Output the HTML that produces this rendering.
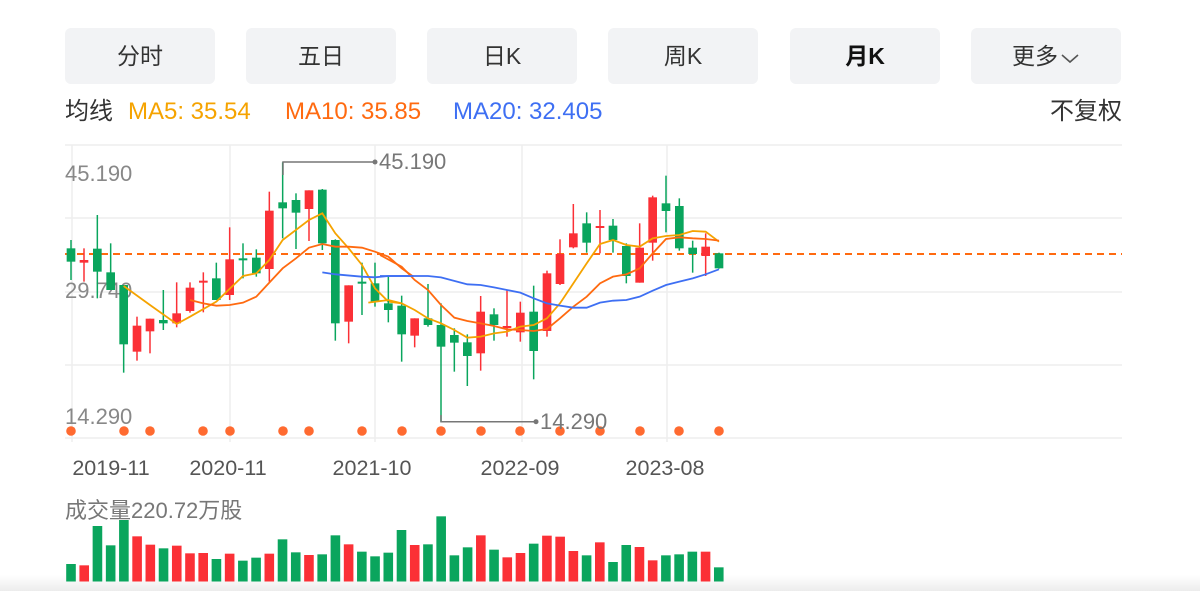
<!DOCTYPE html>
<html><head><meta charset="utf-8"><style>
html,body{margin:0;padding:0;background:#fff;width:1200px;height:591px;overflow:hidden;font-family:"Liberation Sans","Noto Sans CJK SC",sans-serif;}
.btn{position:absolute;top:28px;height:56px;width:150px;background:#f2f3f5;border-radius:6px;font-size:23px;color:#333;text-align:center;line-height:56px;}
.lg{position:absolute;top:97px;font-size:24px;line-height:30px;}
</style></head><body>
<div class="btn" style="left:65px">分时</div>
<div class="btn" style="left:246px">五日</div>
<div class="btn" style="left:427px">日K</div>
<div class="btn" style="left:608px">周K</div>
<div class="btn" style="left:790px;font-weight:bold;color:#111">月K</div>
<div class="btn" style="left:971px">更多<svg width="20" height="12" style="margin-left:2px;vertical-align:middle"><path d="M2 3 L10 10 L18 3" fill="none" stroke="#555" stroke-width="1.6"/></svg></div>
<div class="lg" style="left:65px;color:#333">均线</div>
<div class="lg" style="left:128px;color:#f5a300">MA5: 35.54</div>
<div class="lg" style="left:285px;color:#ff6a10">MA10: 35.85</div>
<div class="lg" style="left:453px;color:#3e6ff3">MA20: 32.405</div>
<div class="lg" style="right:78px;color:#333">不复权</div>
<svg width="1200" height="591" style="position:absolute;left:0;top:0">
<defs><linearGradient id="bg" x1="0" y1="0" x2="0" y2="1"><stop offset="0" stop-color="#fff"/><stop offset="1" stop-color="#ececec"/></linearGradient></defs>
<rect x="0" y="575" width="1200" height="16" fill="url(#bg)"/>
<g stroke="#eeeeee" stroke-width="1.5">
<line x1="65" y1="145" x2="1122" y2="145"/><line x1="65" y1="218" x2="1122" y2="218"/><line x1="65" y1="292" x2="1122" y2="292"/><line x1="65" y1="365" x2="1122" y2="365"/><line x1="65" y1="438" x2="1122" y2="438"/>
<line x1="72" y1="145" x2="72" y2="442"/><line x1="230" y1="145" x2="230" y2="442"/><line x1="375" y1="145" x2="375" y2="442"/><line x1="522" y1="145" x2="522" y2="442"/><line x1="667" y1="145" x2="667" y2="442"/>
</g>
<g font-size="22" fill="#888" font-family="Liberation Sans,sans-serif">
<text x="65" y="181">45.190</text><text x="65" y="298">29.740</text><text x="65" y="424">14.290</text>
</g>
<g font-size="21.5" fill="#555" font-family="Liberation Sans,sans-serif" text-anchor="middle">
<text x="111" y="475">2019-11</text><text x="228" y="475">2020-11</text><text x="372" y="475">2021-10</text><text x="520" y="475">2022-09</text><text x="665" y="475">2023-08</text>
</g>
<line x1="65" y1="254" x2="1122" y2="254" stroke="#ff6a10" stroke-width="2" stroke-dasharray="7,5"/>
<g id="c1" transform="translate(60,150) scale(0.33333)"></g>
<g id="c2" transform="translate(380,150) scale(0.33333)"></g>
<g fill="#ff6a30" id="dots"></g>
<g stroke="#777" stroke-width="1.5" fill="none">
<polyline points="283,175 283,162 375,162"/><polyline points="441,415 441,421.7 536,421.7"/>
</g>
<circle cx="375" cy="162" r="2.5" fill="#777"/><circle cx="536" cy="421.7" r="2.5" fill="#777"/>
<text x="379" y="169" font-size="22" fill="#777">45.190</text>
<text x="540" y="429" font-size="22" fill="#777">14.290</text>
<text x="65" y="518" font-size="22" fill="#777">成交量220.72万股</text>
<g id="vol"></g>
</svg>
<script>
var NS="http://www.w3.org/2000/svg";
function el(p,t,a){var e=document.createElementNS(NS,t);for(var k in a)e.setAttribute(k,a[k]);p.appendChild(e);return e;}
var G="#0aa55d",R="#fb3036";
var c1=[[33,'G',295,335,270,390],[72,'R',330,338,295,395],[112,'G',296,365,195,445],[152,'G',367,420,280,420],[191,'G',405,583,405,668],[231,'R',527,605,500,632],[270,'R',506,544,506,610],[310,'G',510,520,420,540],[350,'R',490,520,397,532],[390,'R',413,483,397,488],[430,'R',392,398,367,487],[469,'G',385,450,338,450],[509,'R',328,435,232,450],[549,'G',325,330,280,385],[589,'G',323,370,298,380],[628,'R',182,357,125,395],[668,'G',157,175,37,265],[708,'G',150,188,130,297],[747,'R',121,177,121,273],[787,'G',119,280,117,300],[826,'G',270,520,268,572],[866,'R',406,515,406,580],[906,'G',395,400,338,495],[945,'G',400,455,338,470]];
var c2=[[25,'G',460,480,380,517],[65,'G',467,553,437,635],[104,'R',505,557,505,592],[144,'G',505,525,402,530],[183,'G',525,590,460,815],[223,'G',555,578,535,665],[262,'G',577,618,553,708],[302,'R',485,610,438,662],[342,'G',493,525,475,572],[381,'R',528,533,420,560],[421,'R',488,547,455,575],[461,'G',485,603,407,688],[501,'R',370,543,362,560],[540,'R',312,402,268,405],[580,'R',250,292,162,295],[620,'G',220,278,187,308],[660,'R',228,233,180,310],[699,'G',227,270,207,308],[739,'G',288,378,280,400],[779,'R',293,398,220,398],[818,'R',142,278,137,332],[858,'G',160,183,77,247],[898,'G',168,295,145,302],[938,'G',293,312,272,368],[977,'R',290,318,250,378],[1017,'G',310,355,308,356]];
function draw(g,arr){arr.forEach(function(c){var col=c[1]=='G'?G:R;el(g,'line',{x1:c[0],x2:c[0],y1:c[4],y2:c[5],stroke:col,'stroke-width':1.5,'vector-effect':'non-scaling-stroke'});el(g,'rect',{x:c[0]-13,y:c[2],width:26,height:Math.max(c[3]-c[2],6),fill:col});});}
var g1=document.getElementById('c1'),g2=document.getElementById('c2');
draw(g1,c1);draw(g2,c2);
function line(g,pts,col){el(g,'polyline',{points:pts,fill:'none',stroke:col,'stroke-width':1.8,'vector-effect':'non-scaling-stroke'});}
line(g1,"191,408 270,465 350,522 390,500 469,455 549,378 589,370 628,330 668,270 747,210 787,190 826,250 866,295 906,345 945,415 985,455 1025,460","#f5a300");
line(g2,"-35,458 25,450 65,460 104,480 144,505 183,520 223,540 262,563 302,560 342,550 381,545 421,530 461,525 501,505 540,460 580,400 620,340 660,282 699,270 739,285 779,290 818,265 858,258 898,255 938,243 977,245 1017,275","#f5a300");
line(g1,"390,450 430,460 469,467 509,465 549,458 589,440 628,398 668,355 708,325 747,293 787,282 826,290 866,290 906,293 945,305 985,320 1025,355 1060,380","#ff6a10");
line(g2,"0,315 65,350 104,390 144,420 183,465 223,503 262,513 302,520 342,528 381,538 421,540 461,543 501,537 540,505 580,470 620,440 660,400 699,380 739,373 779,355 818,310 858,267 898,262 938,265 977,267 1017,272","#ff6a10");
line(g1,"787,367 826,373 906,380 945,382 985,378 1060,378","#3e6ff3");
line(g2,"0,378 65,378 144,378 183,382 262,403 302,405 342,412 421,428 461,445 501,460 540,467 580,473 620,473 660,458 699,452 739,450 779,440 818,422 858,405 898,395 938,385 977,373 1017,358","#3e6ff3");
var d=document.getElementById('dots');
[71,124,150,203,230,283,309,362,402,441,481,520,560,600,640,679,719].forEach(function(x){el(d,'circle',{cx:x,cy:431,r:4.8});});
var tops=[192,196,78,136,60,109,134,145,137,160,159,177,161,182,173,161,118,157,165,163,106,133,155,169,158,90,135,133,49,166,142,106,149,172,159,131,107,110,153,166,127,186,135,141,181,166,163,155,155,202];
var cols="GRGGGRRGRRRGRGGRGGRGGRGGGGRGGGGRGRRGRRRGRGGRRGGGRG";
var v=document.getElementById('vol');
tops.forEach(function(t,i){var x=71+13.22*i;var y=500+t/3;el(v,'rect',{x:x-4.8,y:y,width:9.6,height:581.5-y,fill:cols[i]=='G'?G:R});});
</script>
</body></html>
